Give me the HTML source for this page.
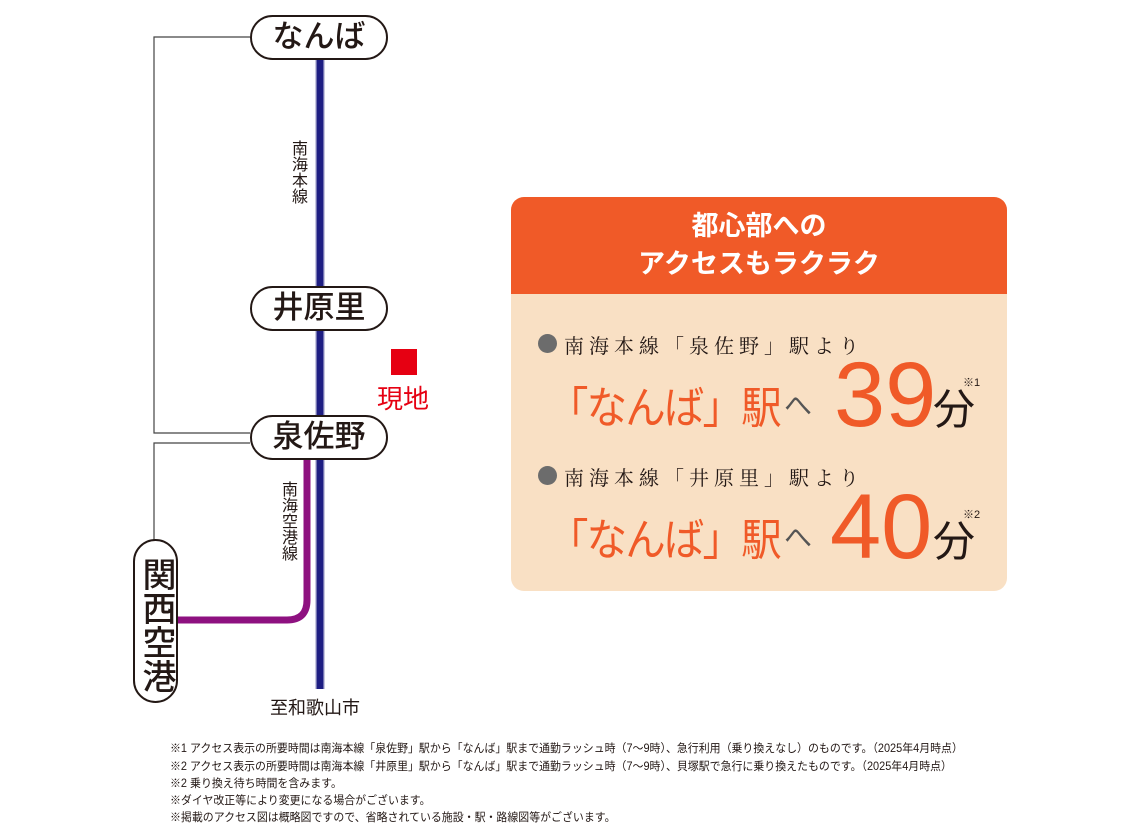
<!DOCTYPE html>
<html><head><meta charset="utf-8"><style>
body{margin:0;width:1140px;height:830px;background:#fff;position:relative;overflow:hidden;font-family:"Liberation Sans","Noto Sans CJK JP",sans-serif;color:#231815}
.a{position:absolute}
.pill{position:absolute;border:2px solid #231815;border-radius:24px;background:#fff;box-sizing:border-box;text-align:center;font-size:31px;font-weight:500;line-height:40px}
.vt{position:absolute;writing-mode:vertical-rl;font-size:16px;line-height:16px}
.fn{position:absolute;left:170px;font-size:11.5px;white-space:nowrap;transform:scaleX(0.95);transform-origin:left center;line-height:14px}
.big{position:absolute;white-space:nowrap}
.nb{transform:scaleX(0.92);transform-origin:left center}
</style></head><body>
<svg class="a" style="left:0;top:0" width="1140" height="830">
<path d="M250 37 H154 V433 H250" fill="none" stroke="#444" stroke-width="1.2"/>
<path d="M250 443 H154 V540" fill="none" stroke="#444" stroke-width="1.2"/>
<line x1="320" y1="55" x2="320" y2="689" stroke="#c8c8e0" stroke-width="10"/>
<line x1="320" y1="55" x2="320" y2="689" stroke="#1e1e82" stroke-width="7"/>
<path d="M307 458 V600 Q307 620 287 620 H176" fill="none" stroke="#8e1180" stroke-width="7"/>
<rect x="391" y="349" width="26" height="26" fill="#e60012"/>
</svg>
<div class="pill" style="left:250px;top:15px;width:138px;height:45px">なんば</div>
<div class="pill" style="left:250px;top:286px;width:138px;height:45px">井原里</div>
<div class="pill" style="left:250px;top:415px;width:138px;height:45px">泉佐野</div>
<div class="pill" style="left:133px;top:539px;width:45px;height:164px;writing-mode:vertical-rl;line-height:41px;font-size:34px;padding-top:8px">関西空港</div>
<div class="vt" style="left:289px;top:140px">南海本線</div>
<div class="vt" style="left:279px;top:481px">南海空港線</div>
<div class="a" style="left:377px;top:379px;font-size:26px;color:#e60012">現地</div>
<div class="a" style="left:270px;top:694px;font-size:18px">至和歌山市</div>

<div class="a" style="left:511px;top:197px;width:496px;height:394px;border-radius:13px;background:#f9e0c4;overflow:hidden">
 <div style="height:97px;background:#f05a28;color:#fff;font-weight:bold;font-size:27px;text-align:center;line-height:38px;padding-top:10px;box-sizing:border-box">都心部への<br>アクセスもラクラク</div>
</div>
<div class="a" style="left:538px;top:334px;width:19px;height:19px;border-radius:50%;background:#6c6c6c"></div>
<div class="a" style="left:564px;top:330px;font-size:20px;letter-spacing:5px;font-family:'Noto Serif CJK SC',serif">南海本線「泉佐野」駅より</div>
<div class="a" style="left:538px;top:466px;width:19px;height:19px;border-radius:50%;background:#6c6c6c"></div>
<div class="a" style="left:564px;top:462px;font-size:20px;letter-spacing:5px;font-family:'Noto Serif CJK SC',serif">南海本線「井原里」駅より</div>

<div class="big nb" style="left:548px;top:372px;font-size:44px;color:#f05a28;letter-spacing:-2px">「なんば」駅</div>
<div class="big" style="left:784px;top:384px;font-size:28px;color:#555">へ</div>
<div class="big" style="left:834px;top:345px;font-size:92px;color:#f05a28;line-height:100px">39</div>
<div class="big" style="left:933px;top:385px;font-size:42px;line-height:50px">分</div>
<div class="big" style="left:963px;top:374px;font-size:11px">※1</div>

<div class="big nb" style="left:548px;top:504px;font-size:44px;color:#f05a28;letter-spacing:-2px">「なんば」駅</div>
<div class="big" style="left:784px;top:516px;font-size:28px;color:#555">へ</div>
<div class="big" style="left:830px;top:477px;font-size:92px;color:#f05a28;line-height:100px">40</div>
<div class="big" style="left:933px;top:517px;font-size:42px;line-height:50px">分</div>
<div class="big" style="left:963px;top:506px;font-size:11px">※2</div>

<div class="fn" style="top:742px">※1 アクセス表示の所要時間は南海本線「泉佐野」駅から「なんば」駅まで通勤ラッシュ時（7～9時）、急行利用（乗り換えなし）のものです。（2025年4月時点）</div>
<div class="fn" style="top:760px">※2 アクセス表示の所要時間は南海本線「井原里」駅から「なんば」駅まで通勤ラッシュ時（7～9時）、貝塚駅で急行に乗り換えたものです。（2025年4月時点）</div>
<div class="fn" style="top:777px">※2 乗り換え待ち時間を含みます。</div>
<div class="fn" style="top:794px">※ダイヤ改正等により変更になる場合がございます。</div>
<div class="fn" style="top:811px">※掲載のアクセス図は概略図ですので、省略されている施設・駅・路線図等がございます。</div>
</body></html>
